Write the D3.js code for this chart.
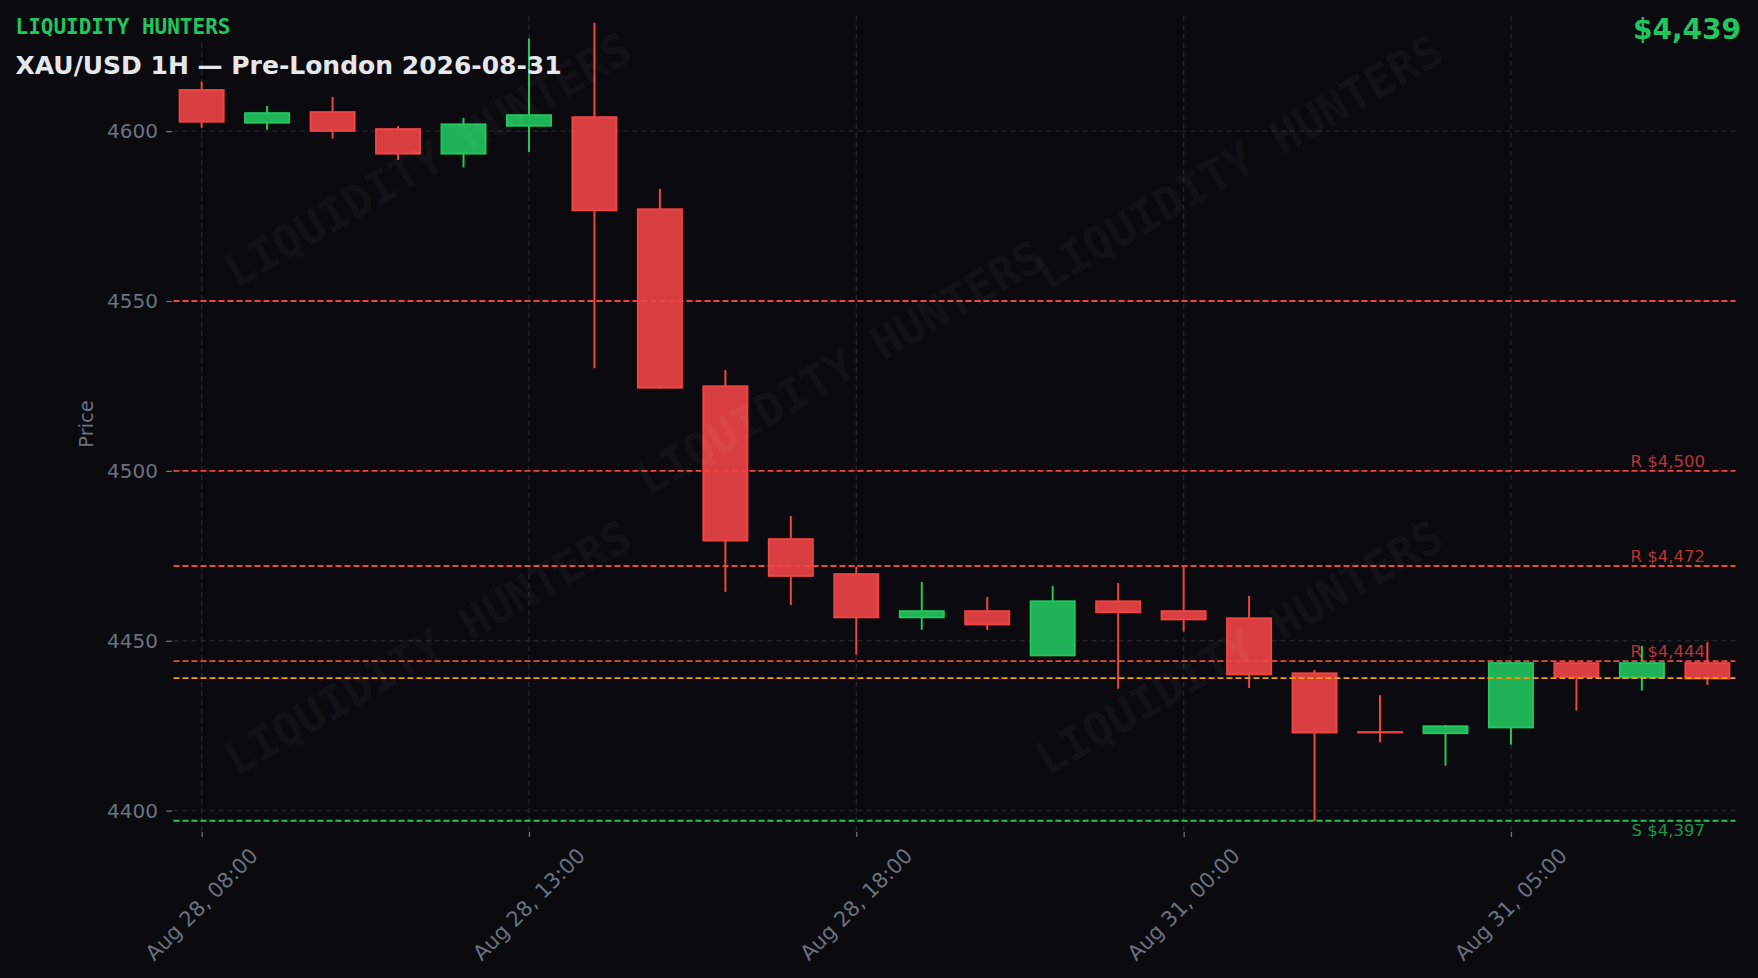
<!DOCTYPE html>
<html>
<head>
<meta charset="utf-8">
<script src="https://cdn.jsdelivr.net/npm/d3@7/dist/d3.min.js"></script>
<style>
  html, body { margin: 0; padding: 0; background: #0a0a0f; }
  svg { display: block; }
</style>
</head>
<body>
<svg id="chart" width="1758" height="978"></svg>
<script>
// ---------------- DATA ----------------
const times = [
  "Aug 28, 08:00","Aug 28, 09:00","Aug 28, 10:00","Aug 28, 11:00","Aug 28, 12:00",
  "Aug 28, 13:00","Aug 28, 14:00","Aug 28, 15:00","Aug 28, 16:00","Aug 28, 17:00",
  "Aug 28, 18:00","Aug 28, 19:00","Aug 28, 20:00","Aug 28, 21:00","Aug 28, 22:00",
  "Aug 31, 00:00","Aug 31, 01:00","Aug 31, 02:00","Aug 31, 03:00","Aug 31, 04:00",
  "Aug 31, 05:00","Aug 31, 06:00","Aug 31, 07:00","Aug 31, 08:00"
];
const opens  = [4612.1,4602.5,4605.6,4600.6,4593.4,4601.6,4604.1,4577.0,4524.9,4479.9,4469.6,4456.9,4458.7,4445.7,4461.6,4458.7,4456.6,4440.4,4423.1,4422.8,4424.5,4443.4,4439.2,4443.4];
const highs  = [4614.6,4607.4,4610.1,4601.5,4603.9,4627.3,4631.9,4583.0,4529.7,4486.7,4471.8,4467.3,4462.9,4466.1,4467.0,4471.8,4463.2,4441.4,4434.0,4425.2,4443.7,4443.5,4448.5,4449.6];
const lows   = [4601.0,4600.4,4597.8,4591.5,4589.3,4593.9,4530.2,4524.2,4464.4,4460.5,4445.9,4453.2,4453.2,4445.7,4435.9,4452.7,4436.1,4396.9,4420.1,4413.2,4419.4,4429.4,4435.3,4437.0];
const closes = [4602.8,4605.3,4600.1,4593.4,4602.0,4604.7,4576.7,4524.5,4479.5,4469.1,4456.9,4458.7,4454.8,4461.6,4458.4,4456.3,4440.1,4423.0,4423.1,4424.8,4443.4,4439.4,4443.4,4438.9];

const xTickIdx = [0, 5, 10, 15, 20];
const yTicks = [4400, 4450, 4500, 4550, 4600];

const resistance = [4550, 4500, 4472, 4444];
const resistanceLabels = ["", "R $4,500", "R $4,472", "R $4,444"];
const support = [4397];
const supportLabels = ["S $4,397"];
const currentPrice = 4439;

const brandText = "LIQUIDITY HUNTERS";
const titleText = "XAU/USD 1H — Pre-London 2026-08-31";
const priceText = "$4,439";
const yAxisTitle = "Price";

// watermark centers (pixel positions of repeated watermark)
const watermarkPos = [[428,160],[840,368],[1239,162],[428,648],[1239,648]];

// ---------------- STYLE ----------------
const BG = "#0a0a0f";
const UP = "#22c55e", DOWN = "#ef4444", ORANGE = "#f59e0b";
const GRID = "#23242c", TICKCOL = "#6b7280";
const FONT = "DejaVu Sans, sans-serif";
const MONO = "DejaVu Sans Mono, monospace";

const W = 1758, H = 978;
const plot = { left: 173.5, right: 1735.5, top: 16, bottom: 832 };

const svg = d3.select("#chart");
svg.append("rect").attr("width", W).attr("height", H).attr("fill", BG);

const x = d3.scaleLinear().domain([-0.43, times.length - 1 + 0.43]).range([plot.left, plot.right]);
const y = d3.scaleLinear().domain([4393.7, 4633.9]).range([plot.bottom, plot.top]);

// ---------------- GRID ----------------
const grid = svg.append("g");
grid.selectAll("line.hg").data(yTicks).join("line")
  .attr("x1", plot.left).attr("x2", plot.right)
  .attr("y1", d => y(d)).attr("y2", d => y(d))
  .attr("stroke", GRID).attr("stroke-width", 1.4).attr("stroke-dasharray", "5,4");
grid.selectAll("line.vg").data(xTickIdx).join("line")
  .attr("x1", d => x(d)).attr("x2", d => x(d))
  .attr("y1", plot.top).attr("y2", plot.bottom)
  .attr("stroke", GRID).attr("stroke-width", 1.4).attr("stroke-dasharray", "5,4");

// ---------------- AXES ----------------
const yAxis = d3.axisLeft(y).tickValues(yTicks).tickSize(6).tickPadding(8).tickFormat(d3.format("d"));
const gy = svg.append("g").attr("transform", `translate(${plot.left - 1.5},0)`).call(yAxis);
gy.select(".domain").remove();
gy.selectAll(".tick line").attr("stroke", TICKCOL).attr("stroke-width", 1.3);
gy.selectAll(".tick text").attr("fill", TICKCOL).attr("font-family", FONT).attr("font-size", 20);

const xAxis = d3.axisBottom(x).tickValues(xTickIdx).tickSize(5).tickFormat(i => times[i]);
const gx = svg.append("g").attr("transform", `translate(0,${plot.bottom})`).call(xAxis);
gx.select(".domain").remove();
gx.selectAll(".tick line").attr("stroke", TICKCOL).attr("stroke-width", 1.3);
gx.selectAll(".tick text")
  .attr("fill", TICKCOL).attr("font-family", FONT).attr("font-size", 21)
  .attr("text-anchor", "end").attr("dy", null).attr("y", null)
  .attr("transform", "translate(57,25) rotate(-45)");

svg.append("text")
  .attr("transform", `translate(${93},${(plot.top + plot.bottom) / 2}) rotate(-90)`)
  .attr("text-anchor", "middle")
  .attr("fill", TICKCOL).attr("font-family", FONT).attr("font-size", 19.5)
  .text(yAxisTitle);

// ---------------- CANDLES ----------------
const idx = d3.range(times.length);
const bodyW = 44;
const cg = svg.append("g");
const col = i => closes[i] > opens[i] ? UP : DOWN;

cg.selectAll("line.wick").data(idx).join("line")
  .attr("x1", i => x(i)).attr("x2", i => x(i))
  .attr("y1", i => y(highs[i])).attr("y2", i => y(lows[i]))
  .attr("stroke", col).attr("stroke-width", 2);

cg.selectAll("rect.body").data(idx).join("rect")
  .attr("x", i => x(i) - bodyW / 2)
  .attr("width", bodyW)
  .attr("y", i => y(Math.max(opens[i], closes[i])))
  .attr("height", i => Math.max(0.3, Math.abs(y(opens[i]) - y(closes[i]))))
  .attr("fill", i => col(i) === UP ? "#20b256" : "#d93f40")
  .attr("stroke", col).attr("stroke-width", 2);

// ---------------- LEVELS ----------------
const lv = svg.append("g");
function levelLine(v, color) {
  lv.append("line")
    .attr("x1", plot.left).attr("x2", plot.right)
    .attr("y1", y(v)).attr("y2", y(v))
    .attr("stroke", color).attr("stroke-width", 1.9).attr("stroke-dasharray", "6,3");
}
resistance.forEach(v => levelLine(v, DOWN));
support.forEach(v => levelLine(v, UP));
levelLine(currentPrice, ORANGE);

resistance.forEach((v, k) => {
  if (!resistanceLabels[k]) return;
  lv.append("text").attr("x", 1705).attr("y", y(v) - 4)
    .attr("text-anchor", "end").attr("font-family", FONT).attr("font-size", 16.5)
    .attr("fill", DOWN).attr("fill-opacity", 0.75).text(resistanceLabels[k]);
});
support.forEach((v, k) => {
  lv.append("text").attr("x", 1705).attr("y", y(v) + 15)
    .attr("text-anchor", "end").attr("font-family", FONT).attr("font-size", 16.5)
    .attr("fill", UP).attr("fill-opacity", 0.75).text(supportLabels[k]);
});

// ---------------- WATERMARK ----------------
const wm = svg.append("g");
watermarkPos.forEach(([cx, cy]) => {
  wm.append("text")
    .attr("transform", `translate(${cx},${cy}) rotate(-30)`)
    .attr("text-anchor", "middle").attr("dominant-baseline", "central")
    .attr("font-family", MONO).attr("font-weight", "bold").attr("font-size", 45)
    .attr("fill", "#ffffff").attr("fill-opacity", 0.055)
    .text(brandText);
});

// ---------------- HEADER ----------------
svg.append("rect").attr("x", 12).attr("y", 12).attr("width", 226).attr("height", 27).attr("fill", BG);
svg.append("text").attr("x", 15.5).attr("y", 33.5)
  .attr("font-family", MONO).attr("font-weight", "bold").attr("font-size", 21)
  .attr("fill", UP).text(brandText);
svg.append("text").attr("x", 15.5).attr("y", 73.5)
  .attr("font-family", FONT).attr("font-weight", "bold").attr("font-size", 25)
  .attr("fill", "#e5e7eb").text(titleText);
svg.append("text").attr("x", 1741).attr("y", 39)
  .attr("text-anchor", "end")
  .attr("font-family", FONT).attr("font-weight", "bold").attr("font-size", 28)
  .attr("fill", UP).text(priceText);
</script>
</body>
</html>
